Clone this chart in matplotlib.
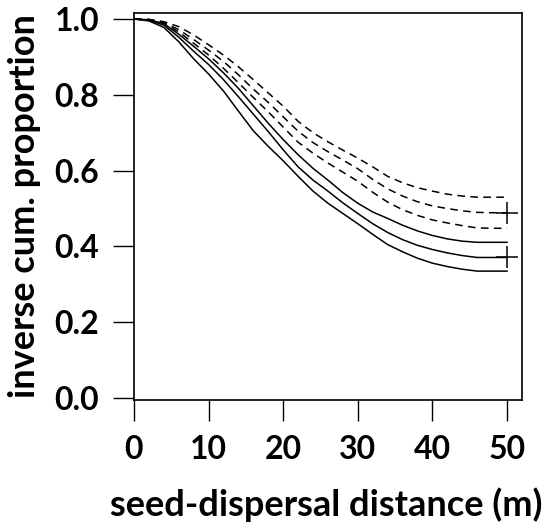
import numpy as np
import matplotlib
matplotlib.use("Agg")
import matplotlib.pyplot as plt

plt.rcParams['font.family'] = ['Lato', 'DejaVu Sans']
plt.rcParams['font.weight'] = 'bold'

# distance grid (m)
dist = [0, 2, 4, 6, 8, 10, 12, 14, 16, 18, 20, 22, 24, 26, 28, 30,
        32, 34, 36, 38, 40, 42, 44, 46, 48, 50]

# solid group: estimate and confidence limits
solid_mid = [1.000, 0.997, 0.984, 0.952, 0.915, 0.880, 0.840, 0.795, 0.749, 0.703, 0.655,
             0.610, 0.575, 0.546, 0.515, 0.487, 0.460, 0.437, 0.418, 0.403, 0.392,
             0.383, 0.376, 0.371, 0.371, 0.371]
solid_lo = [1.000, 0.995, 0.978, 0.940, 0.895, 0.855, 0.810, 0.757, 0.705, 0.664, 0.626,
            0.585, 0.546, 0.514, 0.487, 0.460, 0.432, 0.405, 0.386, 0.369, 0.356,
            0.347, 0.340, 0.335, 0.335, 0.335]
solid_hi = [1.000, 0.998, 0.988, 0.960, 0.928, 0.895, 0.858, 0.817, 0.771, 0.725, 0.682,
            0.642, 0.606, 0.575, 0.542, 0.514, 0.491, 0.474, 0.456, 0.441, 0.429,
            0.420, 0.414, 0.411, 0.411, 0.411]

# dashed group
dash_mid = [1.000, 0.999, 0.991, 0.972, 0.946, 0.918, 0.888, 0.853, 0.815, 0.780, 0.742,
            0.704, 0.674, 0.650, 0.628, 0.605, 0.577, 0.552, 0.533, 0.518, 0.507,
            0.500, 0.494, 0.490, 0.489, 0.489]
dash_lo = [1.000, 0.998, 0.989, 0.966, 0.936, 0.905, 0.870, 0.832, 0.793, 0.755, 0.715,
           0.675, 0.646, 0.620, 0.596, 0.572, 0.543, 0.517, 0.497, 0.482, 0.470,
           0.462, 0.455, 0.449, 0.448, 0.448]
dash_hi = [1.000, 0.999, 0.993, 0.980, 0.958, 0.932, 0.905, 0.874, 0.840, 0.805, 0.770,
           0.730, 0.700, 0.676, 0.654, 0.633, 0.610, 0.585, 0.568, 0.555, 0.546,
           0.538, 0.533, 0.530, 0.530, 0.530]

fig = plt.figure(figsize=(5.5, 5.27), dpi=100)
ax = fig.add_axes([0.2436, 0.241, 0.7054, 0.7344])

lw = 1.1
for y in (solid_lo, solid_mid, solid_hi):
    ax.plot(dist, y, color='black', lw=lw)
for y in (dash_lo, dash_mid, dash_hi):
    ax.plot(dist, y, color='black', lw=lw, linestyle=(0, (5, 3.5)))

# censoring marks at the end
ax.plot(dist[-1], solid_mid[-1], marker='+', color='black', ms=16, mew=1.1)
ax.plot(dist[-1], dash_mid[-1], marker='+', color='black', ms=16, mew=1.1)

ax.set_xlim(0, 52)
ax.set_ylim(-0.005, 1.016)
ax.set_xticks([0, 10, 20, 30, 40, 50])
ax.set_yticks([0.0, 0.2, 0.4, 0.6, 0.8, 1.0])
ax.set_yticklabels(['0.0', '0.2', '0.4', '0.6', '0.8', '1.0'])
ax.tick_params(direction='out', length=15, width=1.0, labelsize=23, pad=10)
for s in ax.spines.values():
    s.set_linewidth(1.2)

ax.set_xlabel('seed-dispersal distance (m)', fontsize=26, fontweight='bold')
ax.set_ylabel('inverse cum. proportion', fontsize=26, fontweight='bold')
ax.xaxis.set_label_coords(0.495, -0.225)
ax.yaxis.set_label_coords(-0.24, 0.5)

fig.savefig('out.png', dpi=100)
